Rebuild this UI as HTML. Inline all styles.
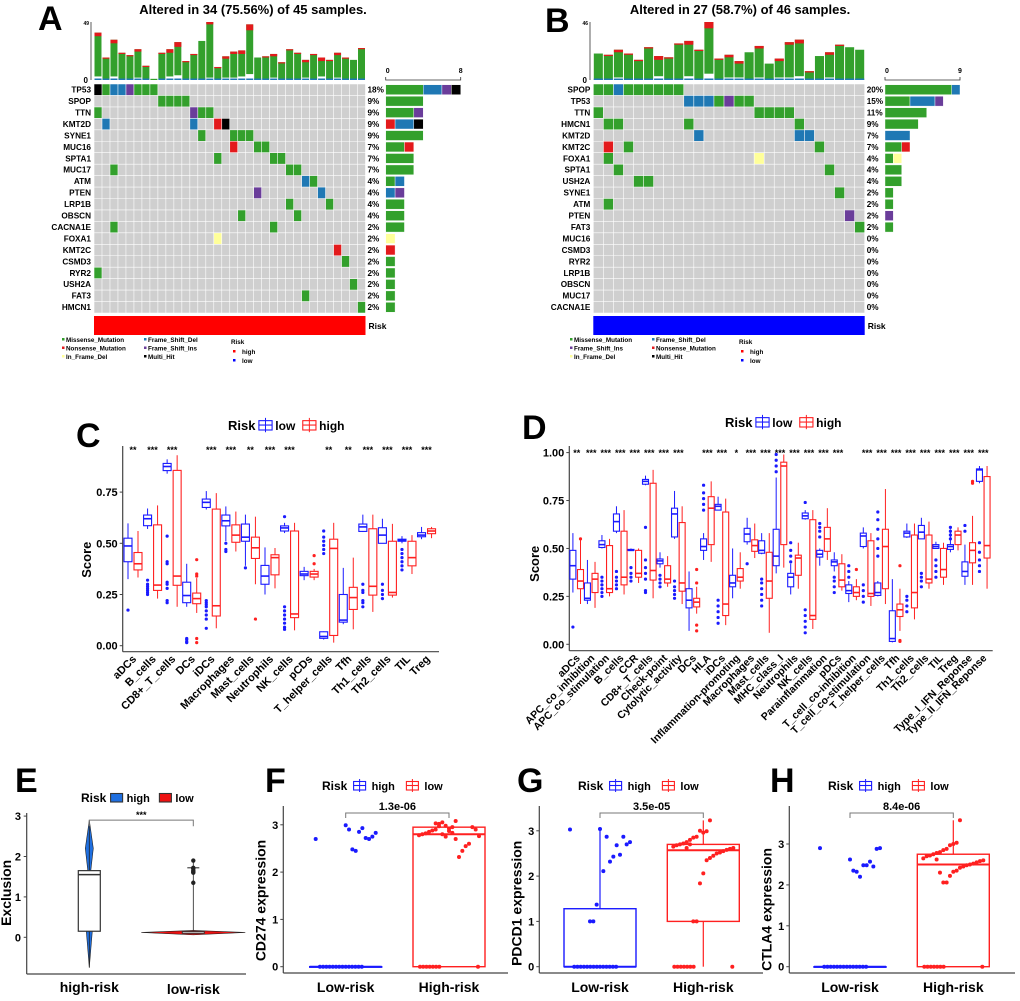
<!DOCTYPE html>
<html><head><meta charset="utf-8">
<style>
html,body{margin:0;padding:0;background:#fff;}
svg{display:block;font-family:"Liberation Sans",sans-serif;}
text{font-weight:bold;}
</style></head>
<body>
<svg id="fig" width="1020" height="1001" viewBox="0 0 1020 1001" xmlns="http://www.w3.org/2000/svg"></svg>
<script>
// ---------- DATA ----------
const genesA = ["TP53","SPOP","TTN","KMT2D","SYNE1","MUC16","SPTA1","MUC17","ATM","PTEN","LRP1B","OBSCN","CACNA1E","FOXA1","KMT2C","CSMD3","RYR2","USH2A","FAT3","HMCN1"];
const pctA = ["18%","9%","9%","9%","9%","7%","7%","7%","4%","4%","4%","4%","2%","2%","2%","2%","2%","2%","2%","2%"];
const cellsA = [
 [[0,"K"],[1,"M"],[2,"D"],[3,"D"],[4,"I"],[5,"M"],[6,"M"],[7,"M"]],
 [[8,"M"],[9,"M"],[10,"M"],[11,"M"]],
 [[0,"M"],[12,"I"],[13,"M"],[14,"M"]],
 [[1,"D"],[12,"D"],[15,"N"],[16,"K"]],
 [[13,"M"],[17,"M"],[18,"M"],[19,"M"]],
 [[17,"N"],[20,"M"],[21,"M"]],
 [[15,"M"],[22,"M"],[23,"M"]],
 [[2,"M"],[24,"M"],[25,"M"]],
 [[26,"D"],[27,"M"]],
 [[20,"I"],[28,"D"]],
 [[24,"M"],[29,"M"]],
 [[18,"M"],[25,"M"]],
 [[2,"M"],[22,"M"]],
 [[15,"Y"]],
 [[30,"N"]],
 [[31,"M"]],
 [[0,"M"]],
 [[32,"M"]],
 [[26,"M"]],
 [[33,"M"]]
];
const topTotalA = [40,19,34,23,21,26,12,1,23,26,32,16,22,33,49,11,20,24,25,47,19,20,22,15,26,23,17,22,19,17,23,19,17,27];
const topNonA   = [3,1,3,1,1,2,1,0,1,3,4,1,1,0,2,1,2,2,3,5,0,1,2,1,1,1,2,1,3,1,2,1,0,1];
const genesB = ["SPOP","TP53","TTN","HMCN1","KMT2D","KMT2C","FOXA1","SPTA1","USH2A","SYNE1","ATM","PTEN","FAT3","MUC16","CSMD3","RYR2","LRP1B","OBSCN","MUC17","CACNA1E"];
const pctB = ["20%","15%","11%","9%","7%","7%","4%","4%","4%","2%","2%","2%","2%","0%","0%","0%","0%","0%","0%","0%"];
const cellsB = [
 [[0,"M"],[1,"M"],[2,"D"],[3,"M"],[4,"M"],[5,"M"],[6,"M"],[7,"M"],[8,"M"]],
 [[9,"D"],[10,"D"],[11,"D"],[12,"M"],[13,"I"],[14,"M"],[15,"M"]],
 [[0,"M"],[16,"M"],[17,"M"],[18,"M"],[19,"M"]],
 [[1,"M"],[2,"M"],[9,"M"],[20,"M"]],
 [[10,"D"],[20,"D"],[21,"D"]],
 [[1,"N"],[3,"M"],[22,"M"]],
 [[1,"M"],[16,"Y"]],
 [[2,"M"],[23,"M"]],
 [[4,"M"],[5,"M"]],
 [[24,"M"]],
 [[1,"M"]],
 [[25,"I"]],
 [[26,"M"]],
 [],[],[],[],[],[],[]
];
const topTotalB = [21,20,24,21,16,26,19,18,29,31,24,46,17,20,15,22,27,13,17,30,32,7,19,22,28,26,24];
const topNonB   = [0,1,2,1,1,1,3,1,1,3,1,5,1,2,2,0,2,0,2,2,3,1,0,2,1,0,0];

const catsC = ["aDCs","B_cells","CD8+_T_cells","DCs","iDCs","Macrophages","Mast_cells","Neutrophils","NK_cells","pCDs","T_helper_cells","Tfh","Th1_cells","Th2_cells","TIL","Treg"];
const sigC = ["**","***","***","","***","***","**","***","***","","**","**","***","***","***","***"];
const lowC = [[0.325,0.41,0.487,0.525,0.597],[0.57,0.586,0.62,0.638,0.67],[0.84,0.855,0.875,0.89,0.91],[0.19,0.21,0.245,0.31,0.40],[0.665,0.675,0.70,0.716,0.755],[0.51,0.585,0.61,0.638,0.68],[0.39,0.51,0.53,0.594,0.64],[0.25,0.30,0.34,0.392,0.48],[0.55,0.56,0.575,0.585,0.60],[0.32,0.342,0.35,0.363,0.385],[0.03,0.036,0.045,0.068,0.07],[0.105,0.115,0.125,0.25,0.38],[0.555,0.558,0.58,0.594,0.64],[0.50,0.50,0.54,0.576,0.62],[0.50,0.51,0.515,0.52,0.535],[0.52,0.532,0.54,0.552,0.58]];
const highC = [[0.333,0.37,0.40,0.455,0.56],[0.23,0.27,0.296,0.59,0.685],[0.19,0.295,0.34,0.856,0.93],[0.16,0.205,0.23,0.257,0.33],[0.085,0.145,0.195,0.667,0.745],[0.46,0.505,0.54,0.59,0.655],[0.30,0.426,0.478,0.53,0.63],[0.28,0.346,0.43,0.444,0.477],[0.075,0.137,0.155,0.56,0.60],[0.32,0.335,0.35,0.363,0.375],[0.015,0.05,0.475,0.52,0.60],[0.08,0.177,0.235,0.285,0.43],[0.165,0.247,0.29,0.571,0.64],[0.235,0.247,0.26,0.51,0.595],[0.35,0.39,0.43,0.51,0.54],[0.525,0.547,0.56,0.571,0.58]];
const outLowC = [[0.174],[0.25,0.26,0.27,0.28,0.29,0.30,0.32],[0.21,0.22,0.28,0.30,0.31,0.40,0.41,0.535],[0.015,0.02,0.03,0.035],[0.085,0.13,0.15,0.17,0.19,0.20,0.21,0.22],[0.46,0.47,0.50],[0.38],[],[0.08,0.09,0.11,0.13,0.15,0.17,0.19,0.63],[],[0.45,0.47,0.49,0.51,0.53,0.56],[],[0.19,0.21,0.22,0.26,0.27,0.30],[0.23,0.25,0.27,0.30],[0.37,0.39,0.41,0.43,0.45,0.47],[]];
const outHighC = [[],[],[],[0.42,0.35,0.34,0.035,0.015],[],[],[0.13],[],[],[0.44,0.40],[],[],[],[],[],[]];

const catsD = ["aDCs","APC_co_inhibition","APC_co_stimulation","B_cells","CCR","CD8+_T_cells","Check-point","Cytolytic_activity","DCs","HLA","iDCs","Inflammation-promoting","Macrophages","Mast_cells","MHC_class_I","Neutrophils","NK_cells","Parainflammation","pDCs","T_cell_co-inhibition","T_cell_co-stimulation","T_helper_cells","Tfh","Th1_cells","Th2_cells","TIL","Treg","Type_I_IFN_Reponse","Type_II_IFN_Reponse"];
const sigD = ["**","***","***","***","***","***","***","***","","***","***","*","***","***","***","***","***","***","***","","***","***","***","***","***","***","***","***","***"];
const lowD = [[0.27,0.34,0.41,0.49,0.58],[0.21,0.23,0.24,0.32,0.44],[0.5,0.505,0.52,0.54,0.57],[0.58,0.59,0.64,0.68,0.72],[0.49,0.49,0.49,0.495,0.5],[0.83,0.835,0.85,0.86,0.88],[0.4,0.42,0.435,0.445,0.48],[0.55,0.56,0.68,0.71,0.8],[0.07,0.19,0.23,0.29,0.38],[0.44,0.49,0.51,0.55,0.58],[0.7,0.7,0.72,0.73,0.77],[0.24,0.3,0.32,0.36,0.5],[0.52,0.535,0.575,0.605,0.66],[0.47,0.475,0.49,0.54,0.58],[0.37,0.41,0.46,0.6,0.87],[0.26,0.3,0.35,0.37,0.42],[0.65,0.655,0.67,0.685,0.7],[0.41,0.455,0.47,0.49,0.5],[0.38,0.41,0.43,0.44,0.48],[0.22,0.265,0.28,0.31,0.33],[0.5,0.51,0.565,0.58,0.61],[0.25,0.255,0.27,0.32,0.33],[0.01,0.015,0.03,0.175,0.34],[0.555,0.56,0.58,0.59,0.63],[0.55,0.55,0.585,0.62,0.66],[0.5,0.5,0.51,0.52,0.535],[0.48,0.495,0.51,0.52,0.6],[0.31,0.355,0.38,0.43,0.52],[0.84,0.85,0.91,0.915,0.93]];
const highD = [[0.21,0.29,0.33,0.39,0.55],[0.19,0.27,0.34,0.37,0.43],[0.25,0.27,0.29,0.515,0.55],[0.26,0.31,0.35,0.59,0.7],[0.32,0.35,0.37,0.49,0.5],[0.24,0.335,0.385,0.84,0.91],[0.3,0.32,0.34,0.41,0.46],[0.21,0.277,0.32,0.635,0.72],[0.16,0.195,0.22,0.24,0.3],[0.43,0.52,0.71,0.77,0.85],[0.1,0.15,0.21,0.69,0.76],[0.29,0.33,0.35,0.395,0.48],[0.45,0.485,0.515,0.545,0.63],[0.06,0.24,0.33,0.48,0.58],[0.4,0.52,0.93,0.95,0.99],[0.29,0.36,0.45,0.465,0.53],[0.08,0.13,0.15,0.65,0.7],[0.44,0.485,0.55,0.61,0.71],[0.28,0.3,0.335,0.42,0.47],[0.23,0.25,0.27,0.3,0.34],[0.2,0.25,0.265,0.54,0.58],[0.21,0.29,0.51,0.6,0.81],[0.07,0.145,0.18,0.21,0.29],[0.13,0.19,0.27,0.57,0.63],[0.29,0.32,0.34,0.57,0.64],[0.31,0.35,0.39,0.5,0.53],[0.49,0.52,0.57,0.59,0.61],[0.31,0.425,0.49,0.53,0.67],[0.29,0.45,0.515,0.875,0.93]];
const outLowD = [[0.09],[],[0.25,0.27,0.29,0.31,0.33,0.35],[0.29,0.31,0.33,0.35,0.38],[0.33,0.35,0.37,0.4],[0.27,0.28,0.34,0.37,0.4,0.44,0.61],[0.3,0.32,0.34,0.36],[0.24,0.26,0.28,0.3,0.33],[],[0.7,0.73,0.76,0.79,0.83],[0.11,0.14,0.17,0.2,0.23],[],[0.42],[0.2,0.23,0.26,0.29,0.32,0.34],[0.9,0.93,0.96,0.99],[0.43,0.46,0.49,0.53],[0.06,0.09,0.12,0.15,0.18,0.74],[0.56,0.59,0.61,0.63],[0.27,0.3,0.33,0.35],[0.35,0.38,0.41],[0.22,0.25,0.28,0.31],[0.46,0.5,0.55,0.6,0.65,0.69],[],[0.17,0.2,0.23,0.25],[0.3,0.33,0.35,0.37],[0.35,0.38,0.41,0.44],[0.55,0.57,0.59,0.61],[0.59,0.62],[0.38,0.41,0.44,0.48,0.53]];
const outHighD = [[0.55],[],[],[],[],[],[],[],[0.39,0.32,0.1,0.07],[],[],[],[],[],[],[],[],[],[],[0.39],[],[],[0.41,0.02,0.015],[],[],[],[],[0.84,0.85],[]];

const catsBottom = ["Low-risk","High-risk"];
const fLowPts = [2.7,2.83,2.75,2.7,2.72,2.93,2.85,2.45,2.48,2.9,2.99];
const fHighPts = [3.08,2.95,2.92,2.98,3.05,3.02,2.9,2.88,2.85,2.82,2.8,2.78,2.76,2.9,2.95,2.6,2.55,2.45,2.32,2.7,2.83,2.87,2.75,2.8,2.97,3.03];
const fLowBox = [0,0,0,0,0];
const fHighBox = [0,0,2.8,2.95,2.95];
const gLowPts = [3.03,2.75,2.7,2.87,2.47,2.68,2.43,2.32,2.87,2.11,3.04,1.37,1.0,1.0];
const gHighPts = [3.23,2.99,2.96,3.0,2.87,2.85,2.8,2.75,2.72,2.7,2.68,2.65,2.62,2.6,2.58,2.55,2.52,2.5,2.45,2.4,2.35,2.06,1.84,1.0,1.0,2.7,2.62];
const gLowBox = [0,0,0,1.28,3.03];
const gHighBox = [0,1.0,2.57,2.7,3.23];
const hLowPts = [2.9,2.9,2.88,2.45,2.57,2.48,2.48,2.2,2.32,2.35,2.62];
const hHighPts = [3.58,3.03,3.0,2.97,2.88,2.85,2.8,2.78,2.75,2.72,2.7,2.65,2.6,2.58,2.55,2.52,2.5,2.48,2.45,2.42,2.35,2.32,2.22,2.06,2.06,2.3,2.62];
const hLowBox = [0,0,0,0,0];
const hHighBox = [0,0,2.5,2.75,3.58];
const eHighViolin = [-0.75,0.15,1.55,1.65,2.9];
const eLowViolin = [0.06,0.1,0.12,0.14,1.9];
const eLowOut = [1.6,1.62,1.65,1.7,1.72,1.9,1.35];

// ---------- helpers ----------
const NS="http://www.w3.org/2000/svg";
const svg=document.getElementById('fig');
function el(tag,attrs,parent){const e=document.createElementNS(NS,tag);for(const k in attrs)e.setAttribute(k,attrs[k]);(parent||svg).appendChild(e);return e;}
function txt(s,attrs,parent){const t=el('text',attrs,parent);t.textContent=s;return t;}
const COL={M:"#33a02c",N:"#e31a1c",D:"#1f78b4",I:"#6a3d9a",Y:"#ffff99",K:"#000000"};
const BLUE="#1a1aff",RED="#ff2020";

[["A",38,30],["B",545,32],["C",76,447],["D",522,439],["E",15,792],["F",265,792],["G",517,792],["H",770,792]].forEach(([s,x,y])=>{
  const t=txt(s,{x:x,y:y,"font-size":34},svg);
  
  
});

function oncoplot(o){
  const g=el('g',{});
  
  
  const n=o.total.length, cw=(o.x1-o.x0)/n, rh=(313-84)/20;
  txt(o.title,{x:o.titleX,y:14,"font-size":13,"text-anchor":"middle"},g);
  const yb=80, ht=58;
  el('line',{x1:o.axX,y1:yb-ht,x2:o.axX,y2:yb,stroke:"#333","stroke-width":0.8},g);
  txt(String(o.max),{x:o.axX-2,y:yb-ht+3,"font-size":5,"text-anchor":"end"},g);
  txt("0",{x:o.axX-3,y:yb+3,"font-size":8,"text-anchor":"end"},g);
  for(let i=0;i<n;i++){
    const x=o.x0+i*cw+0.5, w=cw-1;
    const hTot=o.total[i]/o.max*ht, hN=o.non[i]/o.max*ht;
    const b=el('rect',{x:x,y:yb-hTot,width:w,height:hTot-hN,fill:COL.M},g);
    
    
    if(hN>0){const r=el('rect',{x:x,y:yb-hTot,width:w,height:hN,fill:COL.N},g);
      
      }
    if(o.total[i]>5){const r2=el('rect',{x:x,y:yb-1.5,width:w,height:1.5,fill:COL.D},g);
      
      }
  }
  el('rect',{x:o.x0,y:84,width:o.x1-o.x0,height:229,fill:"#cfcfcf"},g);
  o.genes.forEach((gn,r)=>{
    const y=84+r*rh;
    const lab=txt(gn,{x:o.x0-3,y:y+rh*0.75,"font-size":8.2,"text-anchor":"end"},g);
    
    
    txt(o.pct[r],{x:o.x1+2,y:y+rh*0.75,"font-size":8.2},g);
    o.cells[r].forEach(([c,t])=>{
      const cell=el('rect',{x:o.x0+c*cw,y:y,width:cw,height:rh,fill:COL[t]},g);
      
      
    });
    const cnt={};o.cells[r].forEach(([c,t])=>cnt[t]=(cnt[t]||0)+1);
    let bx=o.bx0; const unit=(o.bx1-o.bx0)/o.bmax;
    ["M","N","D","I","Y","K"].forEach(t=>{if(cnt[t]){
      const rb=el('rect',{x:bx,y:y+0.8,width:cnt[t]*unit,height:rh-1.6,fill:COL[t],stroke:"#fff","stroke-width":0.4},g);
      
      
      bx+=cnt[t]*unit;}});
  });
  for(let i=0;i<=n;i++) el('line',{x1:o.x0+i*cw,y1:84,x2:o.x0+i*cw,y2:313,stroke:"#fff","stroke-width":0.6},g);
  for(let r=0;r<=20;r++) el('line',{x1:o.x0,y1:84+r*rh,x2:o.x1,y2:84+r*rh,stroke:"#fff","stroke-width":0.6},g);
  el('path',{d:`M${o.bx0},77 V80 H${o.bx1} V77`,stroke:"#333",fill:"none","stroke-width":0.8},g);
  txt("0",{x:o.bx0,y:73,"font-size":7},g);
  txt(String(o.bmax),{x:o.bx1,y:73,"font-size":7,"text-anchor":"middle"},g);
  const rk=el('rect',{x:o.x0,y:316,width:o.x1-o.x0,height:19,fill:o.risk},g);
  
  
  txt("Risk",{x:o.x1+3,y:329,"font-size":8.5},g);
  const L=o.legend;
  L.forEach(([lab,t],i)=>{
    const col=Math.floor(i/3), row=i%3;
    const lx=o.lx+col*82, ly=342+row*8.5;
    el('rect',{x:lx-4,y:ly-4,width:2.5,height:2.5,fill:COL[t]},g);
    txt(lab,{x:lx,y:ly,"font-size":6.3},g);
  });
  txt("Risk",{x:o.lx+165,y:344,"font-size":6.3},g);
  el('rect',{x:o.lx+167,y:350,width:2.5,height:2.5,fill:"#ff0000"},g);
  txt("high",{x:o.lx+176,y:354,"font-size":6.3},g);
  el('rect',{x:o.lx+167,y:359,width:2.5,height:2.5,fill:"#0000ff"},g);
  txt("low",{x:o.lx+176,y:363,"font-size":6.3},g);
}
oncoplot({name:"oncoplot-a",title:"Altered in 34 (75.56%) of 45 samples.",titleX:253,x0:94,x1:365.5,axX:91,max:49,total:topTotalA,non:topNonA,genes:genesA,pct:pctA,cells:cellsA,bx0:385.7,bx1:460.7,bmax:8,risk:"#ff0000",lx:66,
 legend:[["Missense_Mutation","M"],["Nonsense_Mutation","N"],["In_Frame_Del","Y"],["Frame_Shift_Del","D"],["Frame_Shift_Ins","I"],["Multi_Hit","K"]]});
oncoplot({name:"oncoplot-b",title:"Altered in 27 (58.7%) of 46 samples.",titleX:740,x0:593.3,x1:864.7,axX:590,max:46,total:topTotalB,non:topNonB,genes:genesB,pct:pctB,cells:cellsB,bx0:885,bx1:960,bmax:9,risk:"#0000ff",lx:574,
 legend:[["Missense_Mutation","M"],["Frame_Shift_Ins","I"],["In_Frame_Del","Y"],["Frame_Shift_Del","D"],["Nonsense_Mutation","N"],["Multi_Hit","K"]]});

function boxGlyph(g,cx,w,s,col,Y){
  el('line',{x1:cx,y1:Y(s[4]),x2:cx,y2:Y(s[3]),stroke:col,"stroke-width":1},g);
  el('line',{x1:cx,y1:Y(s[1]),x2:cx,y2:Y(s[0]),stroke:col,"stroke-width":1},g);
  const b=el('rect',{x:cx-w/2,y:Y(s[3]),width:w,height:Math.max(0.5,Y(s[1])-Y(s[3])),fill:"#fff",stroke:col,"stroke-width":1.1},g);
  
  
  el('line',{x1:cx-w/2,y1:Y(s[2]),x2:cx+w/2,y2:Y(s[2]),stroke:col,"stroke-width":1.6},g);
}
function legendRisk(g,x,y,labels,cols,fs,filled,gap){
  txt("Risk",{x:x,y:y,"font-size":fs+2},g);
  let lx=x+(fs+2)*2.3+(gap||0);
  labels.forEach((l,i)=>{
    el('rect',{x:lx,y:y-fs*0.85,width:fs*1.2,height:fs*0.85,fill:filled?cols[i]:"#fff",stroke:filled?"#333":cols[i],"stroke-width":1.1},g);
    if(!filled){el('line',{x1:lx,y1:y-fs*0.45,x2:lx+fs*1.2,y2:y-fs*0.45,stroke:cols[i],"stroke-width":1.1},g);
      el('line',{x1:lx+fs*0.6,y1:y-fs*1.1,x2:lx+fs*0.6,y2:y+fs*0.2,stroke:cols[i],"stroke-width":1},g);}
    txt(l,{x:lx+fs*1.4+(gap||0),y:y,"font-size":fs+1},g);
    lx+=fs*1.4+l.length*fs*0.62+6+2*(gap||0);
  });
}
function immunePanel(o){
  const g=el('g',{});
  
  
  const Y=v=>o.y0-v*o.py;
  legendRisk(g,o.legX,o.legY,["low","high"],[BLUE,RED],11,false,1);
  el('line',{x1:o.ax,y1:o.top,x2:o.ax,y2:o.bot,stroke:"#444","stroke-width":1.2},g);
  el('line',{x1:o.ax,y1:o.bot,x2:o.right,y2:o.bot,stroke:"#444","stroke-width":1.2},g);
  o.ticks.forEach(t=>{el('line',{x1:o.ax-3,y1:Y(t),x2:o.ax,y2:Y(t),stroke:"#444"},g);
    txt(t.toFixed(2),{x:o.ax-5,y:Y(t)+4,"font-size":11,"text-anchor":"end"},g);});
  const yl=txt("Score",{x:0,y:0,"font-size":13,"text-anchor":"middle",transform:`translate(${o.ylX},${Y(o.ylMid)}) rotate(-90)`},g);
  
  
  o.cats.forEach((c,i)=>{
    const cx=o.c0+i*o.dx;
    boxGlyph(g,cx-o.off,o.w,o.low[i],BLUE,Y);
    boxGlyph(g,cx+o.off,o.w,o.high[i],RED,Y);
    o.outL[i].forEach(v=>el('circle',{cx:cx-o.off,cy:Y(v),r:1.6,fill:BLUE},g));
    o.outH[i].forEach(v=>el('circle',{cx:cx+o.off,cy:Y(v),r:1.6,fill:RED},g));
    txt(o.sig[i],{x:cx,y:o.sigY,"font-size":9,"text-anchor":"middle"},g);
    const xl=txt(c,{x:0,y:0,"font-size":o.fs,"text-anchor":"end",transform:`translate(${cx+4},${o.bot+8}) rotate(-45)`},g);
    
    
  });
}
immunePanel({name:"panel-c-boxplot",cats:catsC,low:lowC,high:highC,outL:outLowC,outH:outHighC,sig:sigC,y0:645.7,py:204.8,ax:122.7,top:446,bot:651.7,right:439,c0:133,dx:19.57,off:5,w:8,ticks:[0,0.25,0.5,0.75],ylX:91,ylMid:0.42,sigY:453,legX:228,legY:430,fs:11});
immunePanel({name:"panel-d-boxplot",cats:catsD,low:lowD,high:highD,outL:outLowD,outH:outHighD,sig:sigD,y0:644.3,py:191.7,ax:569.3,top:446,bot:650.7,right:992.7,c0:576.7,dx:14.52,off:3.8,w:6,ticks:[0,0.25,0.5,0.75,1],ylX:539,ylMid:0.42,sigY:456,legX:725,legY:427,fs:10.5});

function jit(i,k){return (((i*37+k*11)%19)/18-0.5);}
function exprPanel(o){
  const g=el('g',{});
  
  
  const Y=v=>o.y0-v*o.py;
  legendRisk(g,o.legX,o.legY,["high","low"],[BLUE,RED],10,false,4);
  el('line',{x1:o.ax,y1:o.top,x2:o.ax,y2:973,stroke:"#444","stroke-width":1.2},g);
  el('line',{x1:o.ax,y1:973,x2:o.right,y2:973,stroke:"#444","stroke-width":1.2},g);
  [0,1,2,3].forEach(t=>{el('line',{x1:o.ax-3,y1:Y(t),x2:o.ax,y2:Y(t),stroke:"#444"},g);
    txt(String(t),{x:o.ax-5,y:Y(t)+4,"font-size":11,"text-anchor":"end"},g);});
  const yl=txt(o.ylab,{x:0,y:0,"font-size":14,"text-anchor":"middle",transform:`translate(${o.ax-18},${Y(1.4)}) rotate(-90)`},g);
  
  
  const xs=[o.c1,o.c2], boxes=[o.lowBox,o.highBox], cols=[BLUE,RED], pts=[o.lowPts,o.highPts], zs=[o.zl,o.zh];
  catsBottom.forEach((c,i)=>{
    const cx=xs[i], s=boxes[i], col=cols[i], w=72;
    el('line',{x1:cx,y1:Y(s[4]),x2:cx,y2:Y(s[3]),stroke:col,"stroke-width":1.2},g);
    el('line',{x1:cx,y1:Y(s[1]),x2:cx,y2:Y(s[0]),stroke:col,"stroke-width":1.2},g);
    const b=el('rect',{x:cx-w/2,y:Y(s[3]),width:w,height:Math.max(0.5,Y(s[1])-Y(s[3])),fill:"none",stroke:col,"stroke-width":1.4},g);
    
    
    el('line',{x1:cx-w/2,y1:Y(s[2]),x2:cx+w/2,y2:Y(s[2]),stroke:col,"stroke-width":2},g);
    pts[i].forEach((v,k)=>{const p=el('circle',{cx:cx+jit(k,i)*60,cy:Y(v),r:2,fill:col},g);
      
      });
    for(let k=0;k<zs[i];k++) el('circle',{cx:cx+jit(k,i+3)*58,cy:Y(0),r:2,fill:col},g);
    txt(c,{x:cx,y:992,"font-size":14,"text-anchor":"middle"},g);
  });
  const by=o.brY;
  el('path',{d:`M${o.c1},${by+5} V${by} H${o.c2} V${by+5}`,stroke:"#777",fill:"none","stroke-width":1},g);
  txt(o.p,{x:(o.c1+o.c2)/2,y:by-3,"font-size":11,"text-anchor":"middle"},g);
}
exprPanel({name:"panel-f-cd274",ylab:"CD274 expression",y0:966.7,py:47.3,ax:283.3,top:806,right:508,c1:345.7,c2:449,lowBox:fLowBox,highBox:fHighBox,lowPts:fLowPts,highPts:fHighPts,zl:14,zh:8,brY:813,p:"1.3e-06",legX:322,legY:790});
exprPanel({name:"panel-g-pdcd1",ylab:"PDCD1 expression",y0:966.7,py:45.3,ax:539.3,top:806,right:763,c1:600,c2:703.3,lowBox:gLowBox,highBox:gHighBox,lowPts:gLowPts,highPts:gHighPts,zl:14,zh:8,brY:813,p:"3.5e-05",legX:578,legY:790});
exprPanel({name:"panel-h-ctla4",ylab:"CTLA4 expression",y0:966.7,py:40.9,ax:789.3,top:806,right:1015,c1:850,c2:953.3,lowBox:hLowBox,highBox:hHighBox,lowPts:hLowPts,highPts:hHighPts,zl:14,zh:8,brY:813,p:"8.4e-06",legX:828,legY:790});

(function(){
  const g=el('g',{});
  
  
  const Y=v=>937.3-v*40.4;
  legendRisk(g,81,802,["high","low"],["#1f6fe0","#ee1111"],10,true,2);
  el('line',{x1:26.7,y1:813,x2:26.7,y2:974,stroke:"#444","stroke-width":1.2},g);
  el('line',{x1:26.7,y1:974,x2:246,y2:974,stroke:"#444","stroke-width":1.2},g);
  [0,1,2,3].forEach(t=>{el('line',{x1:23.7,y1:Y(t),x2:26.7,y2:Y(t),stroke:"#444"},g);
    txt(String(t),{x:21,y:Y(t)+4,"font-size":11,"text-anchor":"end"},g);});
  txt("Exclusion",{x:0,y:0,"font-size":14,"text-anchor":"middle",transform:`translate(11,${Y(1.1)}) rotate(-90)`},g);
  const c1=89.3,c2=193.3, s=eHighViolin;
  const v=el('path',{d:`M${c1},${Y(s[0])} L${c1+3},${Y(s[1])} L${c1+5},${Y(1.2)} L${c1+1.5},${Y(s[3])} L${c1+4},${Y(2.2)} L${c1},${Y(s[4])} L${c1-4},${Y(2.2)} L${c1-1.5},${Y(s[3])} L${c1-5},${Y(1.2)} L${c1-3},${Y(s[1])} Z`,fill:"#1f6fe0",stroke:"#222","stroke-width":0.6},g);
  
  
  el('line',{x1:c1,y1:Y(s[4]),x2:c1,y2:Y(s[0]),stroke:"#222","stroke-width":0.8},g);
  el('rect',{x:c1-11,y:Y(s[3]),width:22,height:Y(s[1])-Y(s[3]),fill:"#fff",stroke:"#333","stroke-width":1.2},g);
  el('line',{x1:c1-11,y1:Y(s[2]),x2:c1+11,y2:Y(s[2]),stroke:"#333","stroke-width":1.5},g);
  const l=eLowViolin;
  el('line',{x1:c2,y1:Y(l[4]),x2:c2,y2:Y(l[0]),stroke:"#222","stroke-width":0.8},g);
  const v2=el('path',{d:`M${c2-52},${Y(l[2])} L${c2},${Y(l[0])} L${c2+52},${Y(l[2])} L${c2},${Y(l[3]+0.03)} Z`,fill:"#ee1111",stroke:"#222","stroke-width":0.6},g);
  
  
  el('rect',{x:c2-11,y:Y(l[3]),width:22,height:Y(l[1])-Y(l[3]),fill:"#fff",stroke:"#333","stroke-width":1},g);
  eLowOut.forEach(v=>el('circle',{cx:c2,cy:Y(v),r:2.2,fill:"#222"},g));
  el('line',{x1:c2-6,y1:Y(1.72),x2:c2+6,y2:Y(1.72),stroke:"#222","stroke-width":1},g);
  el('path',{d:`M${c1},${Y(2.75)} V${Y(2.9)} H${c2} V${Y(2.75)}`,stroke:"#777",fill:"none"},g);
  txt("***",{x:(c1+c2)/2,y:Y(2.9)-2,"font-size":9,"text-anchor":"middle"},g);
  txt("high-risk",{x:c1,y:992,"font-size":14,"text-anchor":"middle"},g);
  txt("low-risk",{x:c2,y:994,"font-size":14,"text-anchor":"middle"},g);
})();
</script>
</body></html>
